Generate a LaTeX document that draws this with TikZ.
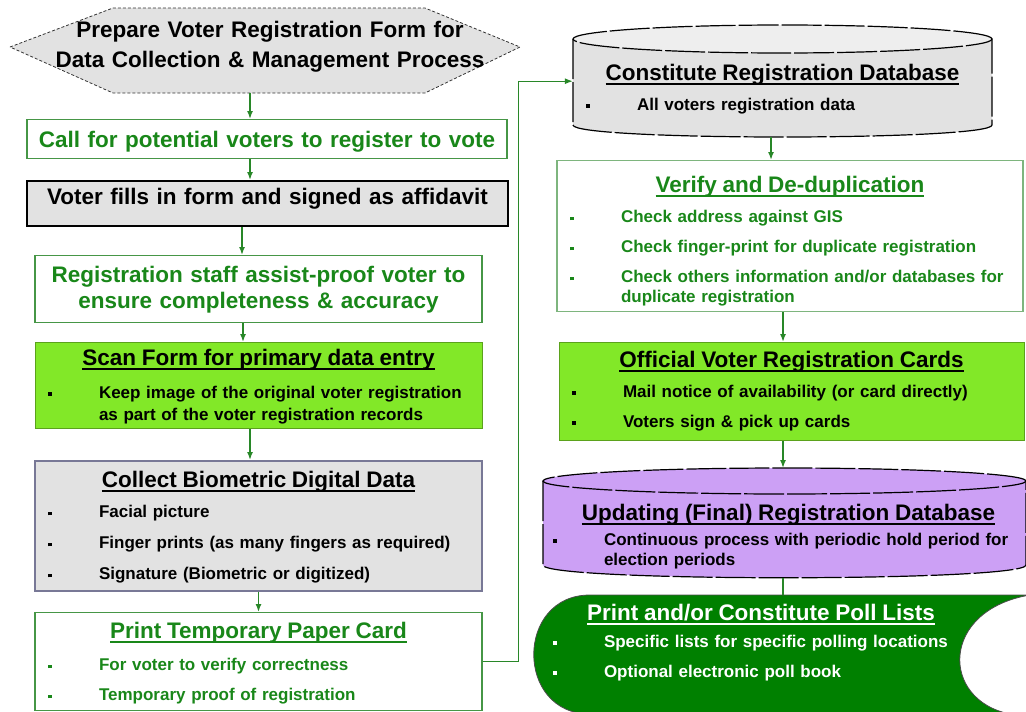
\documentclass[tikz,border=0pt]{standalone}
\usepackage{fontspec}
\setmainfont{Liberation Sans}
\usetikzlibrary{arrows.meta}

\definecolor{greyfill}{RGB}{226,226,226}
\definecolor{limefill}{RGB}{130,232,40}
\definecolor{lilac}{RGB}{204,160,245}
\definecolor{pollgreen}{RGB}{0,128,0}
\definecolor{txtgreen}{RGB}{25,135,25}
\definecolor{boxgreen}{RGB}{70,150,70}
\definecolor{flowgreen}{RGB}{40,135,40}
\definecolor{bioframe}{RGB}{120,120,150}

\newcommand{\ttl}[1]{{\fontsize{22.5}{26}\selectfont\centerline{\setbox0\hbox{#1}\rlap{\rule[-4.5pt]{\wd0}{1.8pt}}\box0}\par}}
\newcommand{\itm}[2][10pt]{\par\vspace{#1}\noindent\makebox[53pt][l]{\hspace{2pt}\rule[2.5pt]{3.5pt}{3.5pt}}\parbox[t]{\dimexpr\linewidth-53pt\relax}{\raggedright#2}}

\begin{document}
\begin{tikzpicture}[x=1pt,y=-1pt,
  flow/.style={draw=flowgreen,line width=1.5pt,-{Latex[length=8pt,width=6pt]}},
  base/.style={anchor=north,inner ysep=0pt,inner xsep=11pt,align=left,font=\bfseries\fontsize{17}{20}\selectfont},
  head/.style={base,align=center,font=\bfseries\fontsize{22.5}{26}\selectfont},
  dbline/.style={draw=black,line width=1.2pt,dash pattern=on 40pt off 3pt}]
\useasboundingbox (0,0) rectangle (1026,712);

\filldraw[fill=greyfill,draw=black!80,line width=0.8pt,densely dashed] (10,47) -- (113,8) -- (425,8) -- (520,47) -- (425,93) -- (113,93) -- cycle;
\filldraw[dbline,fill=greyfill] (573,39) -- (573,125) .. controls (573,141) and (992,141) .. (992,125) -- (992,39) -- cycle;
\filldraw[dbline,fill=greyfill!60] (782.5,39) ellipse [x radius=209.5pt,y radius=14pt];
\filldraw[dbline,fill=lilac] (543,481) -- (543,565) .. controls (543,582) and (1026,582) .. (1026,565) -- (1026,481) -- cycle;
\filldraw[dbline,fill=lilac] (784.5,481) ellipse [x radius=241.5pt,y radius=13pt];
\filldraw[fill=pollgreen,draw=black!70,line width=0.8pt] (590,595) -- (1030,595) .. controls (940,610) and (940,700) .. (1010,714) -- (590,714) .. controls (515,714) and (515,595) .. cycle;

\node[head,font=\bfseries\fontsize{22.5}{30}\selectfont,text width=458pt,text height=29pt,text depth=56pt] (prep) at (270,8) {Prepare Voter Registration Form for\\Data Collection \& Management Process};
\node[head,draw=boxgreen,line width=1.2pt,text=txtgreen,text width=458pt,text height=28pt,text depth=11pt] (call) at (267,119) {Call for potential voters to register to vote};
\node[head,draw=black,line width=2pt,fill=greyfill,text width=459pt,text height=23pt,text depth=22pt] (fill) at (267.5,180) {Voter fills in form and signed as affidavit};
\node[head,draw=boxgreen,line width=1.2pt,text=txtgreen,text width=425pt,text height=27pt,text depth=40pt] (staff) at (258.5,255) {Registration staff assist-proof voter to\\ensure completeness \& accuracy};
\node[base,draw=limefill!70!black,line width=0.8pt,fill=limefill,text width=425pt,text height=23pt,text depth=63pt] (scan) at (258.5,342) {\ttl{Scan Form for primary data entry}\itm[13pt]{Keep image of the original voter registration\\[2pt]as part of the voter registration records}};
\node[base,draw=bioframe,line width=1.5pt,fill=greyfill,text width=425pt,text height=27pt,text depth=103pt] (bio) at (258.5,460) {\ttl{Collect Biometric Digital Data}\itm{Facial picture}\itm[11pt]{Finger prints (as many fingers as required)}\itm[11pt]{Signature (Biometric or digitized)}};
\node[base,draw=boxgreen,line width=1.2pt,text=txtgreen,text width=425pt,text height=26pt,text depth=72pt] (print) at (258.5,612) {\ttl{Print Temporary Paper Card}\itm[12pt]{For voter to verify correctness}\itm{Temporary proof of registration}};

\node[base,text width=397pt,text height=55pt,text depth=57pt] (db1) at (782.5,25) {\ttl{Constitute Registration Database}\itm{All voters registration data}};
\node[base,draw=boxgreen!70,line width=1.2pt,text=txtgreen,text width=444pt,text height=32pt,text depth=119pt] (verify) at (790,160) {\ttl{Verify and De-duplication}\itm{Check address against GIS}\itm{Check finger-print for duplicate registration}\itm{Check others information and/or databases for\newline duplicate registration}};
\node[base,draw=limefill!70!black,line width=0.8pt,fill=limefill,text width=443pt,text height=25pt,text depth=73pt] (official) at (791.5,342) {\ttl{Official Voter Registration Cards}\itm{Mail notice of availability (or card directly)}\itm{Voters sign \& pick up cards}};
\node[base,inner xsep=0pt,text width=475pt,text height=52pt,text depth=58pt] (db2) at (788.5,468) {\ttl{Updating (Final) Registration Database}\itm[5pt]{Continuous process with periodic hold period for\newline election periods}};
\node[base,inner xsep=0pt,text=white,text width=420pt,text height=25pt,text depth=92pt] (poll) at (761,595) {\ttl{Print and/or Constitute Poll Lists}\itm[7pt]{Specific lists for specific polling locations}\itm{Optional electronic poll book}};

\draw[flow] ([xshift=-20pt]prep.south) -- ([xshift=-17pt]call.north);
\draw[flow] ([xshift=-17pt]call.south) -- ([xshift=-17.5pt]fill.north);
\draw[flow] ([xshift=-25.5pt]fill.south) -- ([xshift=-16.5pt]staff.north);
\draw[flow] ([xshift=-15.5pt]staff.south) -- ([xshift=-15.5pt]scan.north);
\draw[flow] ([xshift=-8.5pt]scan.south) -- ([xshift=-8.5pt]bio.north);
\draw[flow] (bio.south) -- (print.north);
\draw[flow,line width=1pt] (print.east) -- ++(36,0) |- (db1.west);
\draw[flow] ([xshift=-11.5pt]db1.south) -- ([xshift=-19pt]verify.north);
\draw[flow] ([xshift=-7pt]verify.south) -- ([xshift=-8.5pt]official.north);
\draw[flow] ([xshift=-8.5pt]official.south) -- ([xshift=-5.5pt]db2.north);
\draw[draw=flowgreen,line width=1.5pt] ([xshift=-5.5pt]db2.south) -- ([xshift=22pt]poll.north);
\end{tikzpicture}
\end{document}
